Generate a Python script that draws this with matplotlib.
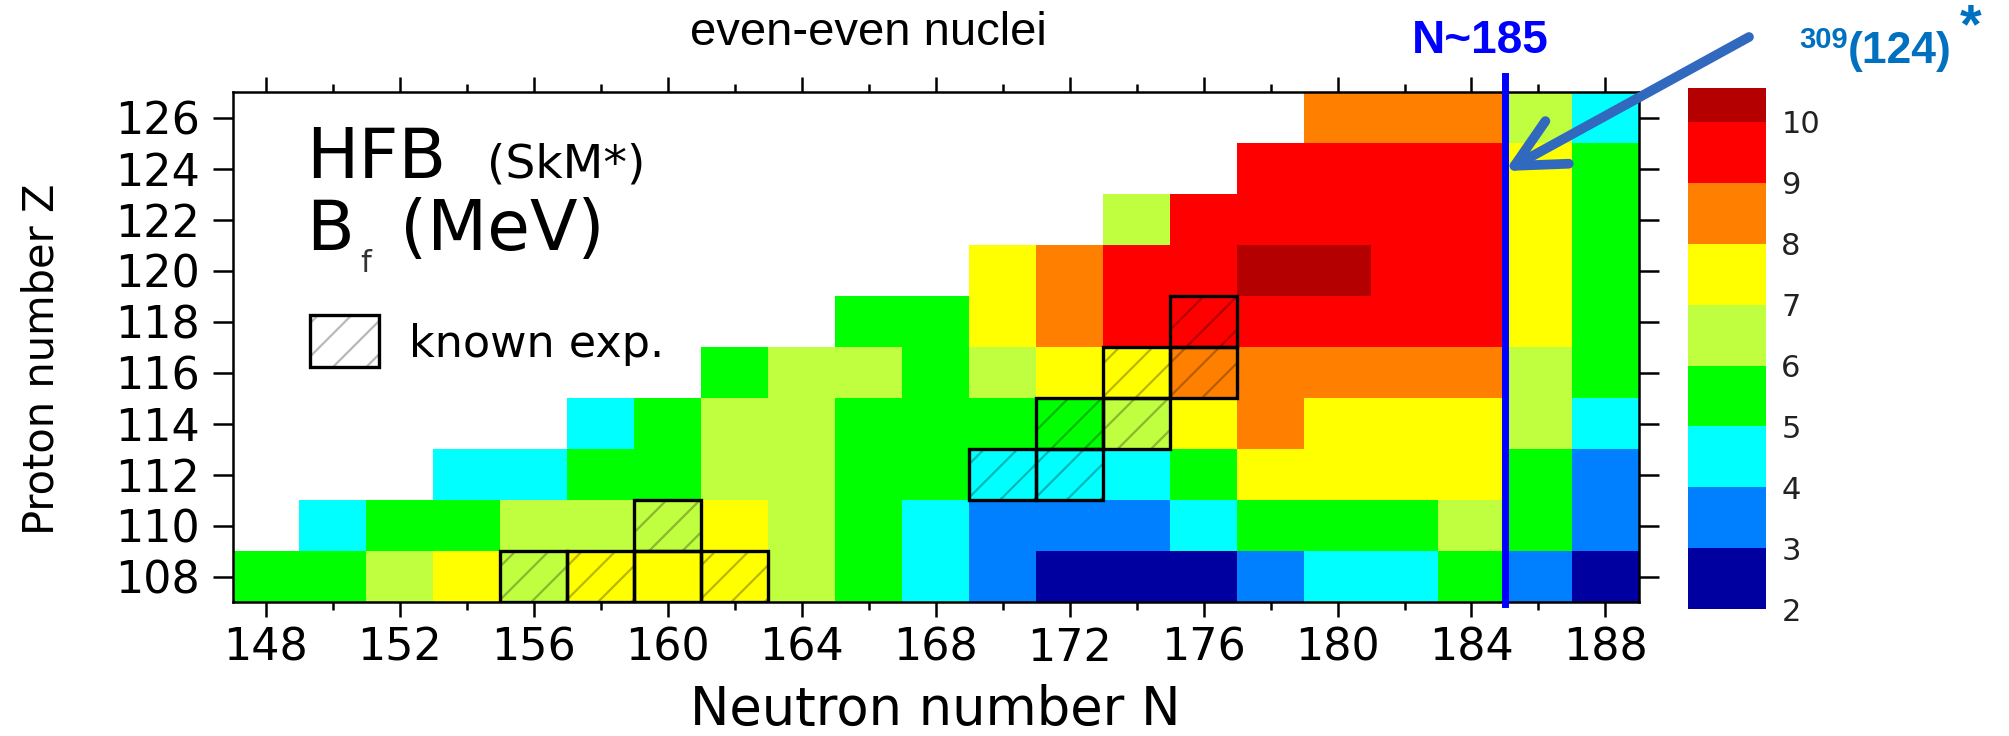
import numpy as np
import matplotlib
matplotlib.use('Agg')
import matplotlib.pyplot as plt
from matplotlib.colors import ListedColormap, BoundaryNorm
from matplotlib.patches import Rectangle

W, H = 2009, 736

neutrons = list(range(148, 190, 2))
protons = list(range(108, 128, 2))

nan = np.nan
# B_f (MeV), une liste par Z (108 ... 126), colonnes N = 148 ... 188
bf_108 = [5.5, 5.5, 6.5, 7.5, 6.5, 7.5, 7.5, 7.5, 6.5, 5.5, 4.5, 3.5, 2.5, 2.5, 2.5, 3.5, 4.5, 4.5, 5.5, 3.5, 2.5]
bf_110 = [nan, 4.5, 5.5, 5.5, 6.5, 6.5, 6.5, 7.5, 6.5, 5.5, 4.5, 3.5, 3.5, 3.5, 4.5, 5.5, 5.5, 5.5, 6.5, 5.5, 3.5]
bf_112 = [nan, nan, nan, 4.5, 4.5, 5.5, 5.5, 6.5, 6.5, 5.5, 5.5, 4.5, 4.5, 4.5, 5.5, 7.5, 7.5, 7.5, 7.5, 5.5, 3.5]
bf_114 = [nan] * 5 + [4.5, 5.5, 6.5, 6.5, 5.5, 5.5, 5.5, 5.5, 6.5, 7.5, 8.5, 7.5, 7.5, 7.5, 6.5, 4.5]
bf_116 = [nan] * 7 + [5.5, 6.5, 6.5, 5.5, 6.5, 7.5, 7.5, 8.5, 8.5, 8.5, 8.5, 8.5, 6.5, 5.5]
bf_118 = [nan] * 9 + [5.5, 5.5, 7.5, 8.5, 9.5, 9.5, 9.5, 9.5, 9.5, 9.5, 7.5, 5.5]
bf_120 = [nan] * 11 + [7.5, 8.5, 9.5, 9.5, 10.3, 10.3, 9.5, 9.5, 7.5, 5.5]
bf_122 = [nan] * 13 + [6.5, 9.5, 9.5, 9.5, 9.5, 9.5, 7.5, 5.5]
bf_124 = [nan] * 15 + [9.5, 9.5, 9.5, 9.5, 7.5, 5.5]
bf_126 = [nan] * 16 + [8.5, 8.5, 8.5, 6.5, 4.5]

# noyaux connus experimentalement
known_n = [156, 158, 160, 162, 160, 170, 172, 172, 174, 174, 176, 176]
known_z = [108, 108, 108, 108, 110, 112, 112, 114, 114, 116, 116, 118]
known_hatch = [True, True, False, True, True, True, True, True, True, True, True, True]

levels = [2, 3, 4, 5, 6, 7, 8, 9, 10]
cores = ['#0000A0', '#0080FF', '#00FFFF', '#00FF00', '#C0FF40',
         '#FFFF00', '#FF8000', '#FF0000']
cor_max = '#B40000'


def px(x, y):
    return x / W, 1 - y / H


fig = plt.figure(figsize=(W / 100, H / 100), dpi=100)
ax = fig.add_axes([232.5 / W, 1 - 602 / H, 1406.4 / W, 510 / H])

cmap = ListedColormap(cores)
cmap.set_over(cor_max)
norm = BoundaryNorm(levels, cmap.N)

bf = np.ma.masked_invalid(np.array([bf_108, bf_110, bf_112, bf_114, bf_116,
                                    bf_118, bf_120, bf_122, bf_124, bf_126]))
n_edges = np.append(np.array(neutrons) - 1, neutrons[-1] + 1)
z_edges = np.append(np.array(protons) - 1, protons[-1] + 1)
mesh = ax.pcolormesh(n_edges, z_edges, bf, cmap=cmap, norm=norm)

plt.rcParams['hatch.linewidth'] = 1.6
for n, z, h in zip(known_n, known_z, known_hatch):
    if h:
        ax.add_patch(Rectangle((n - 1, z - 1), 2, 2, facecolor='none',
                               edgecolor=(0, 0, 0, 0.28), hatch='/', lw=0, zorder=3))
    ax.add_patch(Rectangle((n - 1, z - 1), 2, 2, facecolor='none',
                           edgecolor='black', lw=2.4, zorder=4))

ax.set_xlim(147, 189)
ax.set_ylim(107, 127)
ax.set_xticks(range(148, 190, 4))
ax.set_xticks(range(150, 190, 4), minor=True)
ax.set_yticks(protons)
ax.tick_params(axis='x', which='major', direction='out', length=10.8, width=1.8,
               top=True, labelsize=32, pad=7)
ax.tick_params(axis='x', which='minor', direction='out', length=5.8, width=1.8, top=True)
ax.tick_params(axis='y', direction='out', length=14.4, width=1.8, right=True,
               labelsize=32, pad=9)
for s in ax.spines.values():
    s.set_linewidth(1.8)

ax.set_xlabel('Neutron number N', fontsize=38)
ax.xaxis.set_label_coords(0.5, -0.16)
ax.set_ylabel('Proton number Z', fontsize=30, va='center')
ax.yaxis.set_label_coords(-0.1355, 0.476)

# linha N~185
ax.plot([185, 185], [106.92, 127.63], color='#0000FF', lw=5, clip_on=False, zorder=5)
ax.annotate('', xy=(185, 123.9), xycoords='data',
            xytext=px(1749, 37), textcoords='figure fraction',
            arrowprops=dict(arrowstyle='->,head_length=0.7,head_width=0.35',
                            mutation_scale=50, lw=7, color='#3169BE',
                            shrinkA=0, shrinkB=0, capstyle='round'),
            annotation_clip=False, zorder=6)

fig.text(*px(868, 45), 'even-even nuclei', fontsize=34, family='Liberation Sans',
         ha='center', va='baseline')
fig.text(*px(1480, 53), 'N~185', fontsize=33, fontweight='bold', family='Liberation Sans',
         color='#0000FF', ha='center', va='baseline')
fig.text(*px(1848, 48), '309', fontsize=21, fontweight='bold', family='Liberation Sans',
         color='#0070C0', ha='right', va='baseline')
fig.text(*px(1848, 63), '(124)', fontsize=32, fontweight='bold', family='Liberation Sans',
         color='#0070C0', ha='left', va='baseline')
fig.text(*px(1960, 2), '*', fontsize=40, fontweight='bold', family='Liberation Sans',
         color='#0070C0', ha='left', va='top')

fig.text(*px(306, 178), 'HFB', fontsize=50, va='baseline')
fig.text(*px(487, 177), '(SkM*)', fontsize=34, va='baseline')
fig.text(*px(306, 250), 'B', fontsize=50, va='baseline')
fig.text(*px(360, 272), 'f', fontsize=22, va='baseline', color='#333333')
fig.text(*px(400, 250), '(MeV)', fontsize=50, va='baseline')

x0, y0 = px(310, 367)
fig.patches.append(Rectangle((x0, y0), 69 / W, 52 / H, transform=fig.transFigure,
                             facecolor='white', edgecolor='#B8B8B8', hatch='/', lw=0))
fig.patches.append(Rectangle((x0, y0), 69 / W, 52 / H, transform=fig.transFigure,
                             facecolor='none', edgecolor='black', lw=2.4))
fig.text(*px(409, 357), 'known exp.', fontsize=32, va='baseline')

cax = fig.add_axes([1688 / W, 1 - 609.4 / H, 78 / W, (609.4 - 88) / H])
cb = fig.colorbar(mesh, cax=cax, extend='max', extendrect=True,
                  extendfrac=0.069, ticks=levels)
cb.outline.set_visible(False)
cax.tick_params(length=0, labelsize=22, pad=11, labelcolor='#222222')

fig.savefig('out.png', dpi=100)
